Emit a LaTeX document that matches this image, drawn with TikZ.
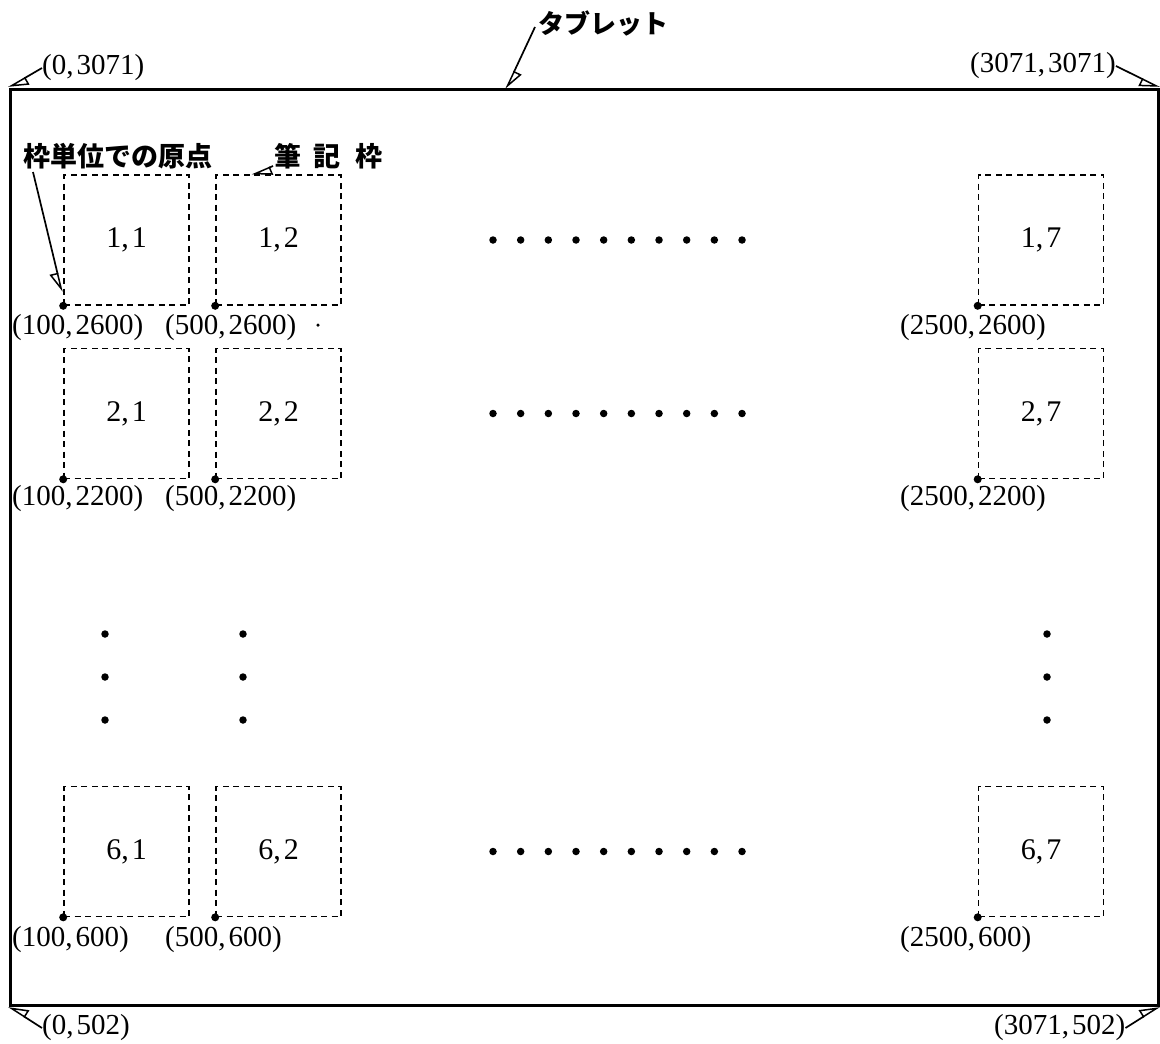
\documentclass[tikz,border=0pt]{standalone}
\usepackage{fontspec}
\setmainfont{Liberation Serif}
\newfontfamily\jpfont{Noto Sans CJK JP}
\usetikzlibrary{arrows.meta}
\newcommand\cmma{,\kern3pt}
\begin{document}
\begin{tikzpicture}[x=1pt,y=-1pt]
\useasboundingbox (0,0) rectangle (1160,1044);
\tikzset{
 num/.style={font=\fontsize{29}{30}\selectfont, inner sep=0pt},
 jpt/.style={font=\jpfont\bfseries\fontsize{27}{28}\selectfont, inner sep=0pt},
 wbox/.style={draw, line width=1.6pt, dash pattern=on 6pt off 4.5pt, minimum width=125pt, minimum height=130pt, inner sep=0pt, font=\fontsize{30}{31}\selectfont},
 org/.style={circle, fill, inner sep=0pt, minimum size=8pt},
 ptr/.style={line width=1.7pt, -{Triangle[open, harpoon, length=18pt, width=16pt, line width=1.5pt]}},
 ptrs/.style={line width=1.7pt, -{Triangle[open, harpoon, swap, length=18pt, width=16pt, line width=1.5pt]}},
 ell/.style={circle, fill, inner sep=0pt, minimum size=7.5pt},
}
% tablet
\node[draw, line width=3pt, minimum width=1148pt, minimum height=916pt, inner sep=0pt] (tab) at (584,547) {};

% corner labels
\node[num, anchor=west] (ltl) at (42,68) {(0\cmma3071)};
\node[num, anchor=west] (ltr) at (970,66) {(3071\cmma3071)};
\node[num, anchor=west] (lbl) at (42,1028) {(0\cmma502)};
\node[num, anchor=west] (lbr) at (994,1028) {(3071\cmma502)};
\node[jpt, anchor=west, font=\jpfont\bfseries\fontsize{26}{27}\selectfont] (ltab) at (538,23) {タブレット};
\coordinate (ptab) at (506,89);

\draw[ptr] (ltl.west) -- (tab.north west);
\draw[ptrs] (ltr.east) -- (tab.north east);
\draw[ptrs] (lbl.west) -- (tab.south west);
\draw[ptr] (lbr.east) -- (tab.south east);
\draw[ptr] ([xshift=-3pt,yshift=-4pt]ltab.west) -- (ptab);

% boxes
\foreach \r/\ry in {1/240, 2/413.5, 6/851.5}{
  \foreach \c/\cx in {1/126.5, 2/278.5, 7/1041}{
    \node[wbox] (b\r\c) at (\cx,\ry) {\r\cmma\c};
    \node[org] (o\r\c) at (b\r\c.south west) {};
  }
}
\node[num, anchor=west] (c11) at (12,328) {(100\cmma2600)};
\node[num, anchor=west] (c12) at (165,328) {(500\cmma2600)};
\node[num, anchor=west] (c17) at (900,328) {(2500\cmma2600)};
\node[num, anchor=west] (c21) at (12,499) {(100\cmma2200)};
\node[num, anchor=west] (c22) at (165,499) {(500\cmma2200)};
\node[num, anchor=west] (c27) at (900,499) {(2500\cmma2200)};
\node[num, anchor=west] (c61) at (12,940) {(100\cmma600)};
\node[num, anchor=west] (c62) at (165,940) {(500\cmma600)};
\node[num, anchor=west] (c67) at (900,940) {(2500\cmma600)};
\node[circle, fill, inner sep=0pt, minimum size=3.5pt] (stray) at (318,325) {};

% annotations
\node[jpt, anchor=west] (lorg) at (23,156) {枠単位での原点};
\node[jpt, anchor=west] (lfrm) at (274,156) {筆\hspace{12pt}記\hspace{15pt}枠};
\coordinate (porg) at (62,292);
\coordinate (pfrm) at (252,175);
\draw[ptrs] (33,172) -- (porg);
\draw[ptr] ([xshift=-1pt,yshift=-10pt]lfrm.west) -- (pfrm);

% ellipses
\foreach \y in {240,413.5,851.5}{
  \foreach \i in {0,...,9}{
    \node[ell] at (493+27.67*\i,\y) {};
  }
}
\foreach \x in {105,243,1047}{
  \foreach \y in {634,677,720}{
    \node[ell] at (\x,\y) {};
  }
}
\end{tikzpicture}
\end{document}
